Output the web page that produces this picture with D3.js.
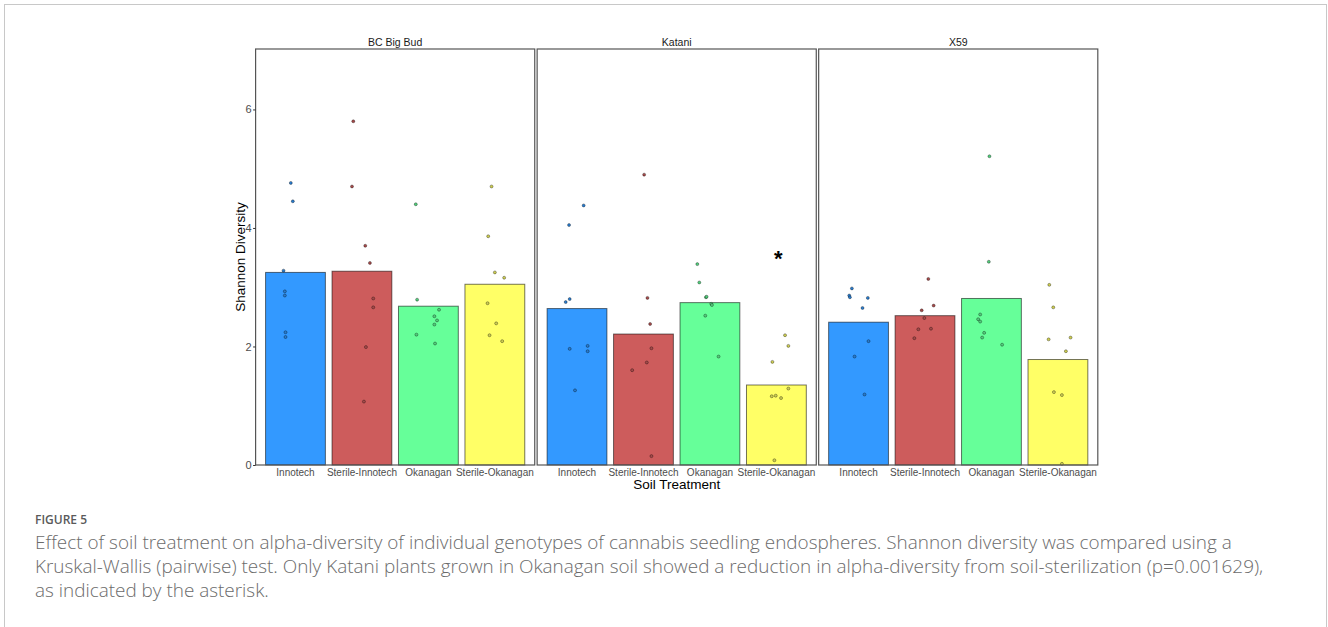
<!DOCTYPE html>
<html>
<head>
<meta charset="utf-8">
<script src="https://cdn.jsdelivr.net/npm/d3@7"></script>
<style>
  html, body { margin: 0; padding: 0; background: #fff; }
  svg { display: block; }
</style>
</head>
<body>
<svg id="chart" width="1328" height="627"></svg>
<script>
// ---------------- data ----------------
const genotypes = ["BC Big Bud", "Katani", "X59"];
const treatments = ["Innotech", "Sterile-Innotech", "Okanagan", "Sterile-Okanagan"];
const barColors = ["#3399FF", "#CD5C5C", "#66FF99", "#FFFF66"];
const yTicks = [0, 2, 4, 6];

// mean Shannon diversity per genotype (rows) x treatment (cols)
const barMeans = [
  [3.25, 3.27, 2.68, 3.05],
  [2.64, 2.21, 2.74, 1.35],
  [2.41, 2.52, 2.81, 1.78]
];

// individual samples [genotype][treatment]
const pointValues = [
  [
    [4.76, 4.45, 3.28, 2.93, 2.86, 2.24, 2.16],
    [5.80, 4.70, 3.70, 3.41, 2.81, 2.66, 1.99, 1.07],
    [4.40, 2.79, 2.62, 2.51, 2.44, 2.37, 2.20, 2.05],
    [4.70, 3.86, 3.25, 3.16, 2.73, 2.39, 2.19, 2.09]
  ],
  [
    [4.38, 4.05, 2.80, 2.75, 2.01, 1.96, 1.92, 1.26],
    [4.90, 2.82, 2.38, 1.97, 1.73, 1.60, 0.15],
    [3.39, 3.08, 2.83, 2.84, 2.72, 2.70, 2.52, 1.83],
    [2.19, 2.01, 1.74, 1.16, 1.17, 1.13, 1.29, 0.08]
  ],
  [
    [2.98, 2.86, 2.83, 2.82, 2.65, 2.09, 1.83, 1.19],
    [3.14, 2.69, 2.61, 2.48, 2.30, 2.29, 2.14],
    [5.21, 3.43, 2.54, 2.46, 2.42, 2.23, 2.15, 2.03],
    [3.04, 2.66, 2.12, 2.15, 1.92, 1.23, 1.18, 0.02]
  ]
];

// horizontal jitter of each sample, in category-step units
const pointJitter = [
  [
    [-0.07, -0.04, -0.18, -0.16, -0.16, -0.15, -0.15],
    [-0.13, -0.15, 0.05, 0.12, 0.17, 0.17, 0.06, 0.03],
    [-0.19, -0.17, 0.16, 0.09, 0.13, 0.09, -0.18, 0.10],
    [-0.05, -0.10, 0.00, 0.14, -0.11, 0.02, -0.08, 0.11]
  ],
  [
    [0.10, -0.12, -0.11, -0.17, 0.16, -0.11, 0.16, -0.03],
    [0.01, 0.06, 0.10, 0.12, 0.05, -0.17, 0.12],
    [-0.19, -0.16, -0.06, -0.05, 0.02, 0.03, -0.07, 0.13],
    [0.13, 0.18, -0.06, -0.07, -0.01, 0.07, 0.18, -0.03]
  ],
  [
    [-0.10, -0.14, -0.13, 0.14, 0.06, 0.15, -0.06, 0.09],
    [0.05, 0.13, -0.05, -0.01, 0.09, -0.10, -0.16],
    [-0.03, -0.04, -0.17, -0.20, -0.17, -0.11, -0.14, 0.16],
    [-0.13, -0.07, -0.14, 0.19, 0.12, -0.06, 0.06, 0.06]
  ]
];

// significance marker
const sigGenotype = "Katani";
const sigTreatment = "Sterile-Okanagan";
const sigValue = 3.55;
const sigJitter = 0.03;
const sigLabel = "*";

const captionTitle = "FIGURE 5";
const captionLines = [
  "Effect of soil treatment on alpha-diversity of individual genotypes of cannabis seedling endospheres. Shannon diversity was compared using a",
  "Kruskal-Wallis (pairwise) test. Only Katani plants grown in Okanagan soil showed a reduction in alpha-diversity from soil-sterilization (p=0.001629),",
  "as indicated by the asterisk."
];
const yTitle = "Shannon Diversity";
const xTitle = "Soil Treatment";

// ---------------- drawing ----------------
(function draw() {
const svg = d3.select("#chart");
const chartFont = "'Liberation Sans', Arial, sans-serif";

// outer frame
svg.append("rect")
  .attr("x", 4.5).attr("y", 4.5).attr("width", 1322).attr("height", 640)
  .attr("fill", "none").attr("stroke", "#c8c8c8").attr("stroke-width", 1);

const plotTop = 49, plotBottom = 465;
const y = d3.scaleLinear().domain([0, 7.02]).range([plotBottom, plotTop]);

const panelX = d3.scaleBand().domain(genotypes).range([255.6, 1097.8]).paddingInner(0.0085);
const pw = panelX.bandwidth();
const x = d3.scaleBand().domain(treatments).range([0, pw]).paddingInner(0.1).paddingOuter(0.15);
const color = d3.scaleOrdinal().domain(treatments).range(barColors);

genotypes.forEach((g, gi) => {
  const p = svg.append("g").attr("transform", `translate(${panelX(g)},0)`);

  // bars
  p.selectAll("rect.bar")
    .data(treatments.map((t, ti) => ({ t, v: barMeans[gi][ti] })))
    .join("rect")
    .attr("class", "bar")
    .attr("x", d => x(d.t))
    .attr("width", x.bandwidth())
    .attr("y", d => y(d.v))
    .attr("height", d => y(0) - y(d.v))
    .attr("fill", d => color(d.t))
    .attr("stroke", "#000").attr("stroke-opacity", 0.55).attr("stroke-width", 1);

  // points
  const pts = [];
  treatments.forEach((t, ti) => {
    pointValues[gi][ti].forEach((v, k) => pts.push({ t, v, j: pointJitter[gi][ti][k] }));
  });
  p.selectAll("circle.pt")
    .data(pts)
    .join("circle")
    .attr("class", "pt")
    .attr("cx", d => x(d.t) + x.bandwidth() / 2 + d.j * x.step())
    .attr("cy", d => y(d.v))
    .attr("r", 1.5)
    .attr("fill", d => d3.color(color(d.t)).darker(0.6))
    .attr("stroke", "#000").attr("stroke-opacity", 0.55).attr("stroke-width", 0.6);

  // x axis labels
  const xa = p.append("g").attr("transform", `translate(0,${plotBottom})`)
    .call(d3.axisBottom(x).tickSize(0).tickPadding(4));
  xa.select(".domain").remove();
  xa.selectAll("text").attr("font-family", chartFont).attr("font-size", 10).attr("fill", "#4d4d4d");

  // significance
  if (g === sigGenotype) {
    p.append("text")
      .attr("x", x(sigTreatment) + x.bandwidth() / 2 + sigJitter * x.step())
      .attr("y", y(sigValue) + 11)
      .attr("text-anchor", "middle")
      .attr("font-family", chartFont).attr("font-weight", "bold").attr("font-size", 22)
      .attr("fill", "#000").text(sigLabel);
  }

  // panel border
  p.append("rect").attr("x", 0).attr("y", plotTop).attr("width", pw).attr("height", plotBottom - plotTop)
    .attr("fill", "none").attr("stroke", "#555").attr("stroke-width", 1.2);

  // strip label
  p.append("text").attr("x", pw / 2).attr("y", plotTop - 3)
    .attr("text-anchor", "middle").attr("font-family", chartFont).attr("font-size", 10.5)
    .attr("fill", "#1a1a1a").text(g);
});

// y axis
const ya = svg.append("g").attr("transform", `translate(${panelX(genotypes[0])},0)`)
  .call(d3.axisLeft(y).tickValues(yTicks).tickFormat(d3.format("d")).tickSize(2.5).tickPadding(1.5));
ya.select(".domain").remove();
ya.selectAll("line").attr("stroke", "#333");
ya.selectAll("text").attr("font-family", chartFont).attr("font-size", 11).attr("fill", "#4d4d4d");

// axis titles
svg.append("text")
  .attr("transform", `translate(244.5,${(plotTop + plotBottom) / 2}) rotate(-90)`)
  .attr("text-anchor", "middle").attr("font-family", chartFont).attr("font-size", 13.5)
  .attr("fill", "#000").text(yTitle);
svg.append("text")
  .attr("x", (panelX(genotypes[0]) + panelX(genotypes[2]) + pw) / 2).attr("y", 489)
  .attr("text-anchor", "middle").attr("font-family", chartFont).attr("font-size", 13.5)
  .attr("fill", "#000").text(xTitle);

// caption
const capFont = "'Open Sans', 'Noto Sans', sans-serif";
svg.append("text").attr("x", 35).attr("y", 524)
  .attr("font-family", capFont).attr("font-size", 12).attr("font-weight", 600)
  .attr("fill", "#5a5a5a").text(captionTitle);
const capBase = [549, 573, 597];
const capTexts = captionLines.map((s, i) =>
  svg.append("text").attr("x", 35).attr("y", capBase[i])
    .attr("font-family", capFont).attr("font-size", 16).attr("font-weight", 300)
    .attr("fill", "#6b6b6b").text(s));
// fit first line to its measured width in the reference
const w0 = capTexts[0].node().getComputedTextLength();
const fs = 16 * (1198 / w0);
capTexts.forEach(t => t.attr("font-size", fs));
})();
</script>
</body>
</html>
